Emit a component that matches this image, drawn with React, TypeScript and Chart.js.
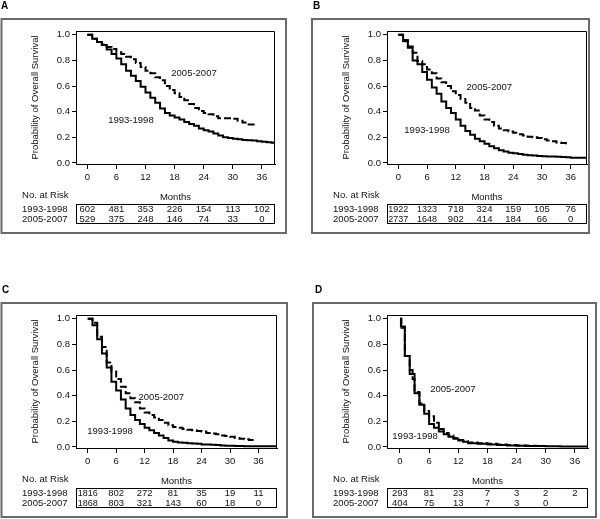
import React, { useEffect, useRef } from "react";
import { Chart, registerables } from "chart.js";

Chart.register(...registerables);

const FONT = '"Liberation Sans", Arial, Helvetica, sans-serif';

// ---- shared axis / labels ----
const monthTicks = [0, 6, 12, 18, 24, 30, 36];
const survivalTicks = [0, 0.2, 0.4, 0.6, 0.8, 1.0];
const groupLabels = ["1993-1998", "2005-2007"];
const yTitle = "Probability of Overall Survival";
const xTitle = "Months";
const riskTitle = "No. at Risk";

// ---- Panel A ----
const aOldTimes = [0, 1, 2, 3, 4, 5, 6, 7, 8, 9, 10, 11, 12, 13, 14, 15, 16, 17, 18, 19, 20, 21, 22, 23, 24, 25, 26, 27, 28, 29, 30, 31, 32, 33, 34, 35, 36, 37, 38, 39];
const aOldSurv = [1.0, 0.97, 0.945, 0.92, 0.885, 0.85, 0.815, 0.77, 0.72, 0.68, 0.64, 0.595, 0.55, 0.51, 0.47, 0.425, 0.39, 0.37, 0.355, 0.34, 0.32, 0.305, 0.29, 0.27, 0.256, 0.245, 0.23, 0.215, 0.2, 0.195, 0.19, 0.185, 0.18, 0.178, 0.175, 0.17, 0.165, 0.162, 0.158, 0.155];
const aNewTimes = [0, 1, 2, 3, 4, 5, 6, 7, 8, 9, 10, 11, 12, 13, 14, 15, 16, 17, 18, 19, 20, 21, 22, 23, 24, 25, 26, 27, 28, 29, 30, 31, 32, 33, 34, 35];
const aNewSurv = [1.0, 0.97, 0.945, 0.925, 0.905, 0.89, 0.865, 0.85, 0.83, 0.81, 0.78, 0.75, 0.72, 0.7, 0.67, 0.645, 0.6, 0.57, 0.545, 0.515, 0.49, 0.46, 0.43, 0.405, 0.39, 0.38, 0.365, 0.35, 0.35, 0.35, 0.345, 0.33, 0.315, 0.3, 0.3, 0.3];
const aRiskOld = [602, 481, 353, 226, 154, 113, 102];
const aRiskNew = [529, 375, 248, 146, 74, 33, 0];

// ---- Panel B ----
const bOldTimes = [0, 1, 2, 3, 4, 5, 6, 7, 8, 9, 10, 11, 12, 13, 14, 15, 16, 17, 18, 19, 20, 21, 22, 23, 24, 25, 26, 27, 28, 29, 30, 31, 32, 33, 34, 35, 36, 37, 38, 39, 40];
const bOldSurv = [1.0, 0.95, 0.9, 0.8, 0.77, 0.71, 0.65, 0.59, 0.54, 0.48, 0.43, 0.39, 0.34, 0.29, 0.25, 0.22, 0.19, 0.17, 0.15, 0.13, 0.115, 0.1, 0.09, 0.08, 0.075, 0.07, 0.065, 0.06, 0.058, 0.055, 0.052, 0.05, 0.05, 0.048, 0.047, 0.045, 0.04, 0.04, 0.04, 0.04, 0.04];
const bNewTimes = [0, 1, 2, 3, 4, 5, 6, 7, 8, 9, 10, 11, 12, 13, 14, 15, 16, 17, 18, 19, 20, 21, 22, 23, 24, 25, 26, 27, 28, 29, 30, 31, 32, 33, 34, 35];
const bNewSurv = [1.0, 0.96, 0.91, 0.86, 0.795, 0.77, 0.73, 0.7, 0.66, 0.63, 0.6, 0.56, 0.53, 0.5, 0.47, 0.43, 0.41, 0.37, 0.34, 0.32, 0.29, 0.27, 0.255, 0.245, 0.235, 0.225, 0.215, 0.205, 0.2, 0.195, 0.185, 0.175, 0.17, 0.16, 0.155, 0.145];
const bRiskOld = [1922, 1323, 718, 324, 159, 105, 76];
const bRiskNew = [2737, 1648, 902, 414, 184, 66, 0];

// ---- Panel C ----
const cOldTimes = [0, 1, 2, 3, 4, 5, 6, 7, 8, 9, 10, 11, 12, 13, 14, 15, 16, 17, 18, 19, 20, 21, 22, 23, 24, 25, 26, 27, 28, 29, 30, 31, 32, 33, 34, 35, 36, 37, 38, 39, 40];
const cOldSurv = [1.0, 0.95, 0.84, 0.73, 0.62, 0.51, 0.44, 0.37, 0.3, 0.25, 0.21, 0.18, 0.15, 0.13, 0.11, 0.09, 0.07, 0.05, 0.04, 0.035, 0.033, 0.03, 0.027, 0.025, 0.02, 0.02, 0.018, 0.016, 0.012, 0.01, 0.01, 0.008, 0.007, 0.006, 0.005, 0.005, 0.005, 0.005, 0.005, 0.005, 0.005];
const cNewTimes = [0, 1, 2, 3, 4, 5, 6, 7, 8, 9, 10, 11, 12, 13, 14, 15, 16, 17, 18, 19, 20, 21, 22, 23, 24, 25, 26, 27, 28, 29, 30, 31, 32, 33, 34, 35];
const cNewSurv = [1.0, 0.97, 0.86, 0.78, 0.66, 0.59, 0.53, 0.47, 0.42, 0.38, 0.35, 0.3, 0.27, 0.25, 0.23, 0.21, 0.19, 0.17, 0.155, 0.15, 0.14, 0.135, 0.13, 0.125, 0.12, 0.11, 0.105, 0.1, 0.09, 0.085, 0.08, 0.07, 0.065, 0.06, 0.055, 0.05];
const cRiskOld = [1816, 802, 272, 81, 35, 19, 11];
const cRiskNew = [1868, 803, 321, 143, 60, 18, 0];

// ---- Panel D ----
const dOldTimes = [0, 0.2, 1, 2, 3, 4, 5, 6, 7, 8, 9, 10, 11, 12, 13, 14, 16, 18, 20, 22, 24, 26, 28, 30, 33, 36, 40];
const dOldSurv = [1.0, 0.94, 0.71, 0.57, 0.42, 0.33, 0.26, 0.18, 0.15, 0.12, 0.1, 0.08, 0.065, 0.05, 0.04, 0.03, 0.025, 0.02, 0.015, 0.012, 0.01, 0.008, 0.007, 0.005, 0.004, 0.003, 0.003];
const dNewTimes = [0, 0.3, 1, 2, 2.6, 3, 4, 5, 6, 7, 8, 9, 10, 11, 12, 13, 14, 16, 18, 20, 22, 24, 26, 28, 30];
const dNewSurv = [1.0, 0.93, 0.71, 0.6, 0.53, 0.43, 0.34, 0.28, 0.24, 0.19, 0.14, 0.11, 0.09, 0.07, 0.055, 0.045, 0.035, 0.03, 0.025, 0.02, 0.015, 0.012, 0.01, 0.008, 0.006];
const dRiskOld = [293, 81, 23, 7, 3, 2, 2];
const dRiskNew = [404, 75, 13, 7, 3, 0];

type PanelCfg = {
  letter: string;
  left: number; top: number; w: number; h: number;
  frame: { l: number; t: number; r: number; b: number };
  plot: { l: number; t: number; r: number; b: number };
  xMin: number; xMax: number;
  oldT: number[]; oldS: number[]; newT: number[]; newS: number[];
  riskOld: number[]; riskNew: number[];
  oldLabel: [number, number]; newLabel: [number, number];
  letterX: number;
};

const Y_MIN = -0.008;
const Y_MAX = 1.03;
const X_AXIS_H = 22;

const panels: PanelCfg[] = [
  {
    letter: "A", left: 0, top: 0, w: 300, h: 260,
    frame: { l: 1.5, t: 19, r: 286, b: 233 },
    plot: { l: 76, t: 31, r: 275, b: 164 },
    xMin: -2.33, xMax: 38.7,
    oldT: aOldTimes, oldS: aOldSurv, newT: aNewTimes, newS: aNewSurv,
    riskOld: aRiskOld, riskNew: aRiskNew,
    oldLabel: [9.0, 0.33], newLabel: [22, 0.7], letterX: 1,
  },
  {
    letter: "B", left: 300, top: 0, w: 300, h: 260,
    frame: { l: 12, t: 19, r: 289, b: 233 },
    plot: { l: 87, t: 31, r: 287, b: 164 },
    xMin: -2.36, xMax: 39.4,
    oldT: bOldTimes, oldS: bOldSurv, newT: bNewTimes, newS: bNewSurv,
    riskOld: bRiskOld, riskNew: bRiskNew,
    oldLabel: [6.0, 0.255], newLabel: [19, 0.59], letterX: 13,
  },
  {
    letter: "C", left: 0, top: 260, w: 300, h: 259,
    frame: { l: 1.5, t: 43, r: 287, b: 257 },
    plot: { l: 76, t: 55, r: 277, b: 188 },
    xMin: -2.47, xMax: 39.9,
    oldT: cOldTimes, oldS: cOldSurv, newT: cNewTimes, newS: cNewSurv,
    riskOld: cRiskOld, riskNew: cRiskNew,
    oldLabel: [4.7, 0.12], newLabel: [15.5, 0.39], letterX: 2,
  },
  {
    letter: "D", left: 300, top: 260, w: 300, h: 259,
    frame: { l: 13, t: 43, r: 296, b: 257 },
    plot: { l: 87, t: 55, r: 288, b: 188 },
    xMin: -2.67, xMax: 38.7,
    oldT: dOldTimes, oldS: dOldSurv, newT: dNewTimes, newS: dNewSurv,
    riskOld: dRiskOld, riskNew: dRiskNew,
    oldLabel: [3.1, 0.08], newLabel: [10.9, 0.446], letterX: 15,
  },
];

function toPoints(t: number[], s: number[]) {
  return t.map((v, i) => ({ x: v, y: s[i] }));
}

function decorPlugin(p: PanelCfg) {
  return {
    id: "decor" + p.letter,
    afterDraw(chart: any) {
      const { ctx, chartArea: ca, scales } = chart;
      const xs = scales.x;
      const ys = scales.y;
      const f0 = p.frame.t;
      ctx.save();
      // plot box top & right
      ctx.strokeStyle = "#000";
      ctx.lineWidth = 1;
      ctx.beginPath();
      ctx.moveTo(Math.round(ca.left) + 0.5, Math.round(ca.top) + 0.5);
      ctx.lineTo(Math.round(ca.right) - 0.5, Math.round(ca.top) + 0.5);
      ctx.lineTo(Math.round(ca.right) - 0.5, Math.round(ca.bottom) + 0.5);
      ctx.stroke();
      // outer frame
      ctx.strokeStyle = "#6a6a6a";
      ctx.lineWidth = 2;
      ctx.strokeRect(p.frame.l, p.frame.t, p.frame.r - p.frame.l, p.frame.b - p.frame.t);
      // panel letter
      ctx.fillStyle = "#000";
      ctx.font = `bold 10px ${FONT}`;
      ctx.textAlign = "left";
      ctx.textBaseline = "top";
      ctx.fillText(p.letter, p.letterX, f0 - 18);
      // y title
      ctx.save();
      ctx.font = `9.5px ${FONT}`;
      ctx.fillStyle = "#111";
      ctx.translate(ca.left - 41, (ca.top + ca.bottom) / 2);
      ctx.rotate(-Math.PI / 2);
      ctx.textAlign = "center";
      ctx.textBaseline = "middle";
      ctx.fillText(yTitle, 0, 0);
      ctx.restore();
      // curve labels
      ctx.font = `9.5px ${FONT}`;
      ctx.fillStyle = "#111";
      ctx.textAlign = "center";
      ctx.textBaseline = "middle";
      ctx.fillText(groupLabels[1], xs.getPixelForValue(p.newLabel[0]), ys.getPixelForValue(p.newLabel[1]));
      ctx.fillText(groupLabels[0], xs.getPixelForValue(p.oldLabel[0]), ys.getPixelForValue(p.oldLabel[1]));
      // Months
      ctx.fillText(xTitle, (ca.left + ca.right) / 2, f0 + 178);
      // risk table
      const rowRight = ca.left - 8.5;
      const labW = ctx.measureText(groupLabels[0]).width;
      ctx.textAlign = "left";
      ctx.fillText(riskTitle, rowRight - labW, f0 + 176);
      ctx.textAlign = "right";
      ctx.fillText(groupLabels[0], rowRight, f0 + 190.5);
      ctx.fillText(groupLabels[1], rowRight, f0 + 200.5);
      ctx.strokeStyle = "#000";
      ctx.lineWidth = 1;
      ctx.strokeRect(Math.round(ca.left) + 0.5, f0 + 185.5, Math.round(ca.right - ca.left) - 1, 19);
      ctx.textAlign = "center";
      p.riskOld.forEach((v, i) => {
        ctx.fillText(String(v), xs.getPixelForValue(monthTicks[i]), f0 + 190.5, 20);
      });
      p.riskNew.forEach((v, i) => {
        ctx.fillText(String(v), xs.getPixelForValue(monthTicks[i]), f0 + 200.5, 20);
      });
      ctx.restore();
    },
  };
}

function Panel({ p }: { p: PanelCfg }) {
  const ref = useRef<HTMLCanvasElement>(null);
  useEffect(() => {
    const canvas = ref.current!;
    const tickFont = { family: FONT, size: 9.5 };
    const chart = new Chart(canvas, {
      type: "line",
      data: {
        datasets: [
          {
            label: groupLabels[0],
            data: toPoints(p.oldT, p.oldS),
            stepped: "before",
            borderColor: "#000",
            borderWidth: 2,
            pointRadius: 0,
            fill: false,
          },
          {
            label: groupLabels[1],
            data: toPoints(p.newT, p.newS),
            stepped: "before",
            borderColor: "#000",
            borderWidth: 2,
            borderDash: [7, 3],
            pointRadius: 0,
            fill: false,
          },
        ],
      },
      options: {
        responsive: false,
        animation: false,
        devicePixelRatio: 1,
        layout: {
          padding: {
            left: 0,
            top: p.plot.t,
            right: p.w - p.plot.r,
            bottom: p.h - p.plot.b - X_AXIS_H,
          },
        },
        plugins: { legend: { display: false }, tooltip: { enabled: false }, title: { display: false } },
        scales: {
          x: {
            type: "linear",
            min: p.xMin,
            max: p.xMax,
            afterBuildTicks: (s: any) => {
              s.ticks = monthTicks.map((v) => ({ value: v }));
            },
            afterFit: (s: any) => {
              s.height = X_AXIS_H;
            },
            grid: { drawOnChartArea: false, drawTicks: true, tickLength: 5, color: "#000", lineWidth: 1 },
            border: { display: true, color: "#000", width: 1 },
            ticks: { padding: 3, color: "#111", font: tickFont, maxRotation: 0, autoSkip: false, callback: (v: any) => String(v) },
          },
          y: {
            type: "linear",
            min: Y_MIN,
            max: Y_MAX,
            afterBuildTicks: (s: any) => {
              s.ticks = survivalTicks.map((v) => ({ value: v }));
            },
            afterFit: (s: any) => {
              s.width = p.plot.l;
            },
            grid: { drawOnChartArea: false, drawTicks: true, tickLength: 4, color: "#000", lineWidth: 1 },
            border: { display: true, color: "#000", width: 1 },
            ticks: { padding: 2, color: "#111", font: tickFont, callback: (v: any) => Number(v).toFixed(1) },
          },
        },
      } as any,
      plugins: [decorPlugin(p)],
    });
    return () => chart.destroy();
  }, [p]);
  return (
    <canvas
      ref={ref}
      width={p.w}
      height={p.h}
      style={{ position: "absolute", left: p.left, top: p.top, width: p.w, height: p.h }}
    />
  );
}

export default function App() {
  return (
    <div style={{ position: "absolute", left: 0, top: 0, width: 600, height: 519, background: "#fff", overflow: "hidden" }}>
      {panels.map((p) => (
        <Panel key={p.letter} p={p} />
      ))}
    </div>
  );
}
